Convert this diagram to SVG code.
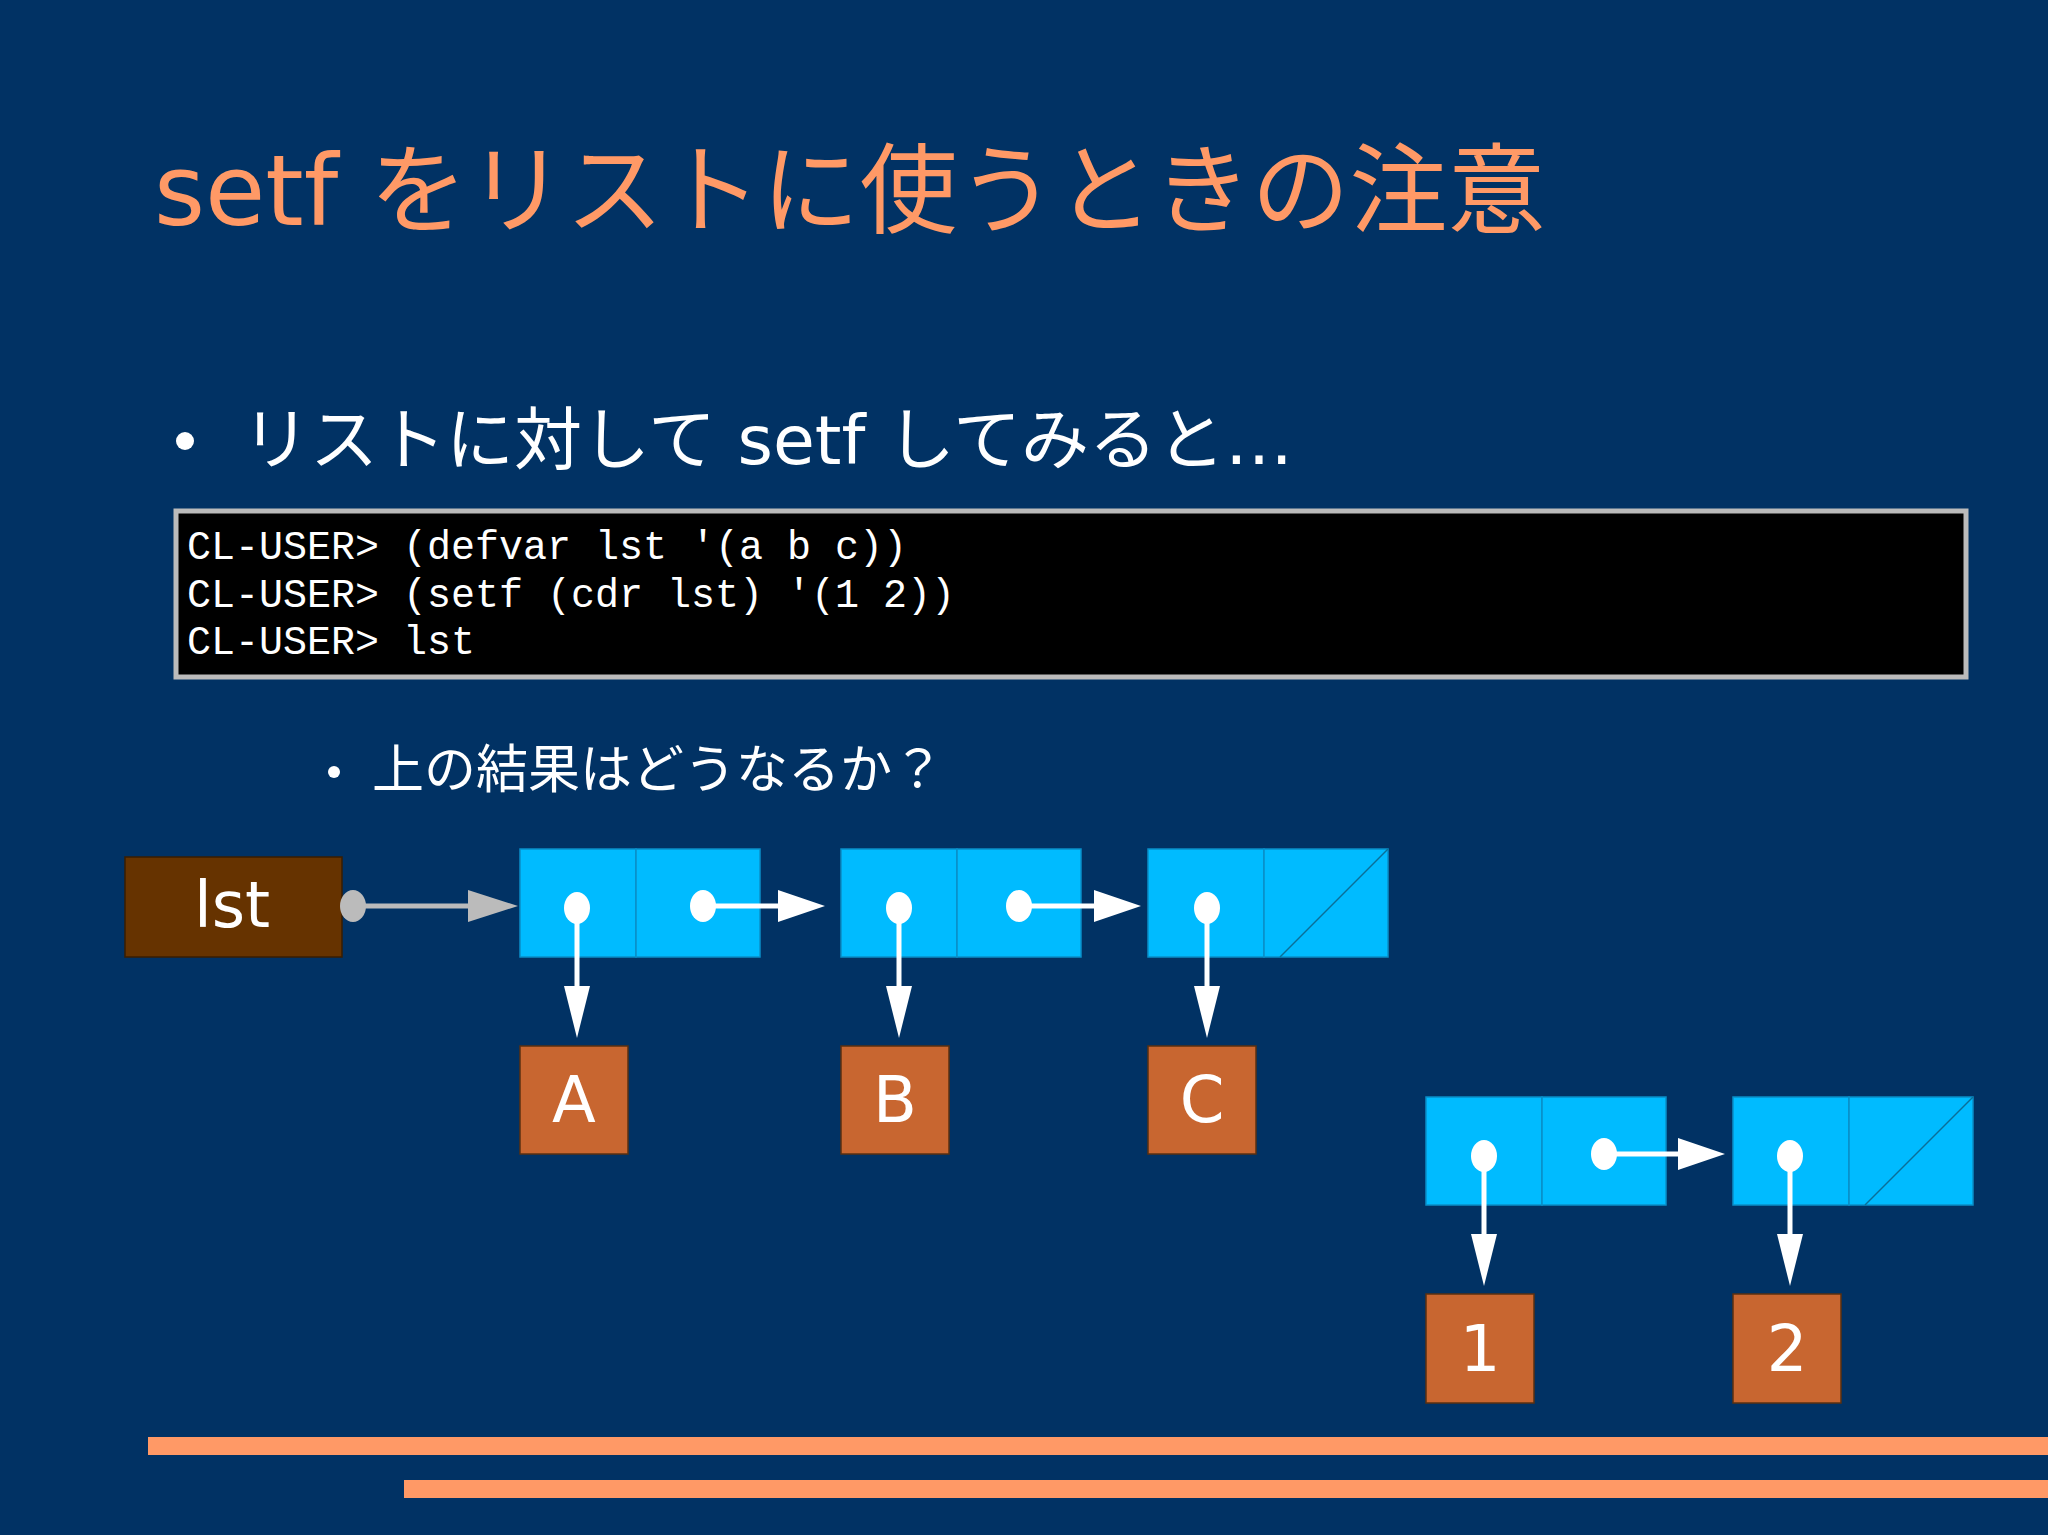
<svg xmlns="http://www.w3.org/2000/svg" width="2048" height="1535" viewBox="0 0 2048 1535">
<style>
.cell{fill:#00bbff;stroke:#0a8fc8;stroke-width:1.5}
.val{fill:#c86630;stroke:#5a3010;stroke-width:1.5}
.lbl{font-family:"DejaVu Sans",sans-serif;font-size:64px;fill:#fff;text-anchor:middle}
.code{font-family:"Liberation Mono",monospace;font-size:40px;fill:#fff}
.w{stroke:#fff;stroke-width:5;fill:none}
</style>
<defs>
<marker id="ah" markerWidth="12" markerHeight="10" refX="12" refY="5" orient="auto" markerUnits="userSpaceOnUse" viewBox="0 0 12 10"><path d="M0,0 L12,5 L0,10 Z" fill="#fff"/></marker>
</defs>
<rect width="2048" height="1535" fill="#013264"/>
<text x="154" y="225" font-family="'DejaVu Sans','Noto Sans CJK JP',sans-serif" font-size="98" fill="#ff9966">setf をリストに使うときの注意</text>
<circle cx="185" cy="441" r="9" fill="#fff"/>
<text x="242" y="464" font-family="'DejaVu Sans','Noto Sans CJK JP',sans-serif" font-size="68" fill="#fff">リストに対して setf してみると…</text>
<rect x="176" y="511" width="1790" height="166" fill="#000" stroke="#bbbbbb" stroke-width="5"/>
<text class="code" x="187" y="559">CL-USER&gt; (defvar lst '(a b c))</text>
<text class="code" x="187" y="607">CL-USER&gt; (setf (cdr lst) '(1 2))</text>
<text class="code" x="187" y="654">CL-USER&gt; lst</text>
<circle cx="334" cy="772" r="6" fill="#fff"/>
<text x="372" y="788" font-family="'DejaVu Sans','Noto Sans CJK JP',sans-serif" font-size="52" fill="#fff">上の結果はどうなるか？</text>
<g id="lst"><rect x="125" y="857" width="217" height="100" fill="#663300" stroke="#3a1e00" stroke-width="1.5"/><text class="lbl" x="232" y="927">lst</text></g>
<g id="cell1"><rect class="cell" x="520" y="849" width="116" height="108"/><rect class="cell" x="636" y="849" width="124" height="108"/></g>
<g id="cell2"><rect class="cell" x="841" y="849" width="116" height="108"/><rect class="cell" x="957" y="849" width="124" height="108"/></g>
<g id="cell3"><rect class="cell" x="1148" y="849" width="116" height="108"/><rect class="cell" x="1264" y="849" width="124" height="108"/><line x1="1280" y1="957" x2="1388" y2="849" stroke="#0a6f98" stroke-width="1.5"/></g>
<g id="A"><rect class="val" x="520" y="1046" width="108" height="108"/><text class="lbl" x="574" y="1122">A</text></g>
<g id="B"><rect class="val" x="841" y="1046" width="108" height="108"/><text class="lbl" x="895" y="1122">B</text></g>
<g id="C"><rect class="val" x="1148" y="1046" width="108" height="108"/><text class="lbl" x="1202" y="1122">C</text></g>
<g id="cell4"><rect class="cell" x="1426" y="1097" width="116" height="108"/><rect class="cell" x="1542" y="1097" width="124" height="108"/></g>
<g id="cell5"><rect class="cell" x="1733" y="1097" width="116" height="108"/><rect class="cell" x="1849" y="1097" width="124" height="108"/><line x1="1865" y1="1205" x2="1973" y2="1097" stroke="#0a6f98" stroke-width="1.5"/></g>
<g id="one"><rect class="val" x="1426" y="1294" width="108" height="109"/><text class="lbl" x="1480" y="1371">1</text></g>
<g id="two"><rect class="val" x="1733" y="1294" width="108" height="109"/><text class="lbl" x="1787" y="1371">2</text></g>
<g id="connectors">
<line x1="353" y1="906" x2="470" y2="906" stroke="#bbbbbb" stroke-width="5"/>
<path d="M468,890 L518,906 L468,922 Z" fill="#bbbbbb"/>
<ellipse cx="353" cy="906" rx="13" ry="16" fill="#bbbbbb"/>
<g fill="#fff">
<ellipse cx="577" cy="908" rx="13" ry="16"/><ellipse cx="703" cy="906" rx="13" ry="16"/>
<ellipse cx="899" cy="908" rx="13" ry="16"/><ellipse cx="1019" cy="906" rx="13" ry="16"/>
<ellipse cx="1207" cy="908" rx="13" ry="16"/>
<ellipse cx="1484" cy="1156" rx="13" ry="16"/><ellipse cx="1604" cy="1154" rx="13" ry="16"/>
<ellipse cx="1790" cy="1156" rx="13" ry="16"/>
</g>
<line class="w" x1="703" y1="906" x2="780" y2="906"/><path d="M778,890 L825,906 L778,922 Z" fill="#fff"/>
<line class="w" x1="1019" y1="906" x2="1096" y2="906"/><path d="M1094,890 L1141,906 L1094,922 Z" fill="#fff"/>
<line class="w" x1="1604" y1="1154" x2="1680" y2="1154"/><path d="M1678,1138 L1725,1154 L1678,1170 Z" fill="#fff"/>
<line class="w" x1="577" y1="908" x2="577" y2="988"/><path d="M564,986 L577,1038 L590,986 Z" fill="#fff"/>
<line class="w" x1="899" y1="908" x2="899" y2="988"/><path d="M886,986 L899,1038 L912,986 Z" fill="#fff"/>
<line class="w" x1="1207" y1="908" x2="1207" y2="988"/><path d="M1194,986 L1207,1038 L1220,986 Z" fill="#fff"/>
<line class="w" x1="1484" y1="1156" x2="1484" y2="1236"/><path d="M1471,1234 L1484,1286 L1497,1234 Z" fill="#fff"/>
<line class="w" x1="1790" y1="1156" x2="1790" y2="1236"/><path d="M1777,1234 L1790,1286 L1803,1234 Z" fill="#fff"/>
</g>
<rect x="148" y="1437" width="1900" height="18" fill="#ff9966"/>
<rect x="404" y="1480" width="1644" height="18" fill="#ff9966"/>
</svg>
